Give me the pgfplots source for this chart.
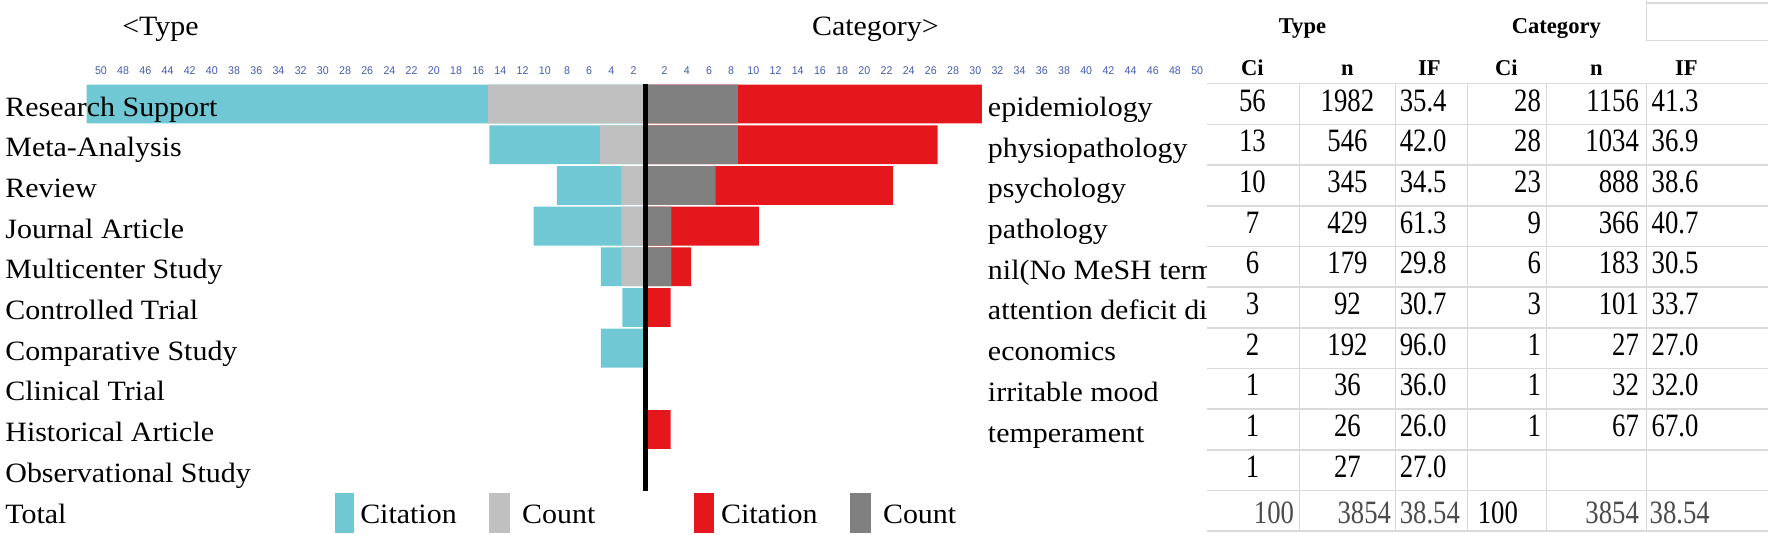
\documentclass[border=0pt]{standalone}
\usepackage{fontspec}
\setmainfont{Liberation Serif}
\newfontfamily\labfont{Liberation Serif}[FakeStretch=1.07]
\newfontfamily\tabfont{Liberation Serif}[FakeStretch=0.82]
\newfontfamily\tickfont{Liberation Sans}[FakeStretch=0.95]
\usepackage{pgfplots}
\pgfplotsset{compat=1.18}
\definecolor{cCyan}{RGB}{112,200,212}
\definecolor{cLight}{RGB}{192,192,192}
\definecolor{cDark}{RGB}{128,128,128}
\definecolor{cRed}{RGB}{228,24,28}
\definecolor{cBlue}{RGB}{70,90,180}
\definecolor{cLine}{RGB}{218,218,218}
\definecolor{cTot}{RGB}{75,75,75}
\newcommand{\LAB}{\fontsize{14}{16}\labfont}
\newcommand{\TAB}{\fontsize{16.3}{18}\tabfont}
\newcommand{\HEAD}{\fontsize{11.3}{13}\selectfont\bfseries}
\begin{document}
\begin{tikzpicture}
\begin{scope}[x=0.5pt,y=-0.5pt]
\path[use as bounding box] (0,0) rectangle (1769,534);
\end{scope}
\begin{axis}[
  at={(0pt,-267pt)}, anchor=south west,
  scale only axis, width=884.5pt, height=267pt,
  xmin=-58.198, xmax=101.17,
  ymin=-11.581, ymax=1.539,
  axis line style={draw=none},
  ytick=\empty,
  xtick={-49.1,-47.1,-45.1,-43.1,-41.1,-39.1,-37.1,-35.1,-33.1,-31.1,-29.1,-27.1,-25.1,-23.1,-21.1,-19.1,-17.1,-15.1,-13.1,-11.1,-9.1,-7.1,-5.1,-3.1,-1.1,
         1.7,3.7,5.7,7.7,9.7,11.7,13.7,15.7,17.7,19.7,21.7,23.7,25.7,27.7,29.7,31.7,33.7,35.7,37.7,39.7,41.7,43.7,45.7,47.7,49.7},
  xticklabels={50,48,46,44,42,40,38,36,34,32,30,28,26,24,22,20,18,16,14,12,10,8,6,4,2,
               2,4,6,8,10,12,14,16,18,20,22,24,26,28,30,32,34,36,38,40,42,44,46,48,50},
  xticklabel pos=upper,
  major tick length=0pt,
  xticklabel style={anchor=center, inner sep=0pt, yshift=-35pt, font=\fontsize{5.6}{6}\tickfont, text=cBlue},
  clip=false,
]
\addplot[xbar, bar shift=0pt, bar width=0.955, fill=cCyan, draw=none]
  coordinates {(-50.4,-1) (-14.1,-2) (-8.0,-3) (-10.1,-4) (-4.05,-5) (-2.1,-6) (-4.05,-7)};
\addplot[xbar, bar shift=0pt, bar width=0.955, fill=cLight, draw=none]
  coordinates {(-14.2,-1) (-4.1,-2) (-2.2,-3) (-2.2,-4) (-2.2,-5)};
\addplot[xbar, bar shift=0pt, bar width=0.955, fill=cRed, draw=none]
  coordinates {(30.3,-1) (26.3,-2) (22.3,-3) (10.2,-4) (4.1,-5) (2.25,-6) (2.25,-9)};
\addplot[xbar, bar shift=0pt, bar width=0.955, fill=cDark, draw=none]
  coordinates {(8.3,-1) (8.3,-2) (6.3,-3) (2.3,-4) (2.3,-5)};
\draw[line width=2.5pt, black] (axis cs:0,-0.5) -- (axis cs:0,-10.5);
\end{axis}
\begin{scope}[x=0.5pt,y=-0.5pt]
% titles
\node[anchor=base west, inner sep=0, font=\LAB] at (122,35) {<Type};
\node[anchor=base west, inner sep=0, font=\LAB] at (812,35) {Category>};
% left labels
\foreach \lab [count=\i] in {Research Support,Meta-Analysis,Review,Journal Article,Multicenter Study,Controlled Trial,Comparative Study,Clinical Trial,Historical Article,Observational Study}
  \node[anchor=base west, inner sep=0, font=\LAB] at (5,{83+40.7*(\i-0.5)+12}) {\lab};
\node[anchor=base west, inner sep=0, font=\LAB] at (5,523) {Total};
% category labels (cut at the cell edge, as in the reference)
\begin{scope}
\clip (975,80) rectangle (1207,500);
\foreach \lab [count=\i] in {epidemiology,physiopathology,psychology,pathology,nil(No MeSH term,attention deficit di,economics,irritable mood,temperament}
  \node[anchor=base west, inner sep=0, font=\LAB] at (988,{83+40.7*(\i-0.5)+12.5}) {\lab};
\end{scope}
% legend
\fill[cCyan] (335,492) rectangle (354,532);
\fill[cLight] (489,492) rectangle (510,532);
\fill[cRed] (694,492) rectangle (714,532);
\fill[cDark] (850,492) rectangle (871,532);
\node[anchor=base west, inner sep=0, font=\LAB] at (360,523) {Citation};
\node[anchor=base west, inner sep=0, font=\LAB] at (522,523) {Count};
\node[anchor=base west, inner sep=0, font=\LAB] at (721,523) {Citation};
\node[anchor=base west, inner sep=0, font=\LAB] at (883,523) {Count};
% table grid
\foreach \k in {0,...,11}
  \draw[cLine, line width=0.75pt] (1207,{83+40.7*\k}) -- (1769,{83+40.7*\k});
\foreach \xx in {1300,1396,1468,1547,1647}
  \draw[cLine, line width=0.75pt] (\xx,83) -- (\xx,531);
\draw[cLine, line width=0.75pt] (1647,0) -- (1647,40) (1647,2) -- (1769,2) (1647,40) -- (1769,40);
% table headers
\node[anchor=base, inner sep=0, font=\HEAD] at (1303,33) {Type};
\node[anchor=base, inner sep=0, font=\HEAD] at (1557,33) {Category};
\foreach \h/\xx in {Ci/1253,n/1348,IF/1430,Ci/1507,n/1597,IF/1687}
  \node[anchor=base, inner sep=0, font=\HEAD] at (\xx,75) {\h};
% type columns
\foreach \ci/\n/\f [count=\i] in {56/1982/35.4,13/546/42.0,10/345/34.5,7/429/61.3,6/179/29.8,3/92/30.7,2/192/96.0,1/36/36.0,1/26/26.0,1/27/27.0}{
  \node[anchor=base, inner sep=0, font=\TAB] at (1253,{83+40.7*(\i-0.5)+7}) {\ci};
  \node[anchor=base, inner sep=0, font=\TAB] at (1348,{83+40.7*(\i-0.5)+7}) {\n};
  \node[anchor=base west, inner sep=0, font=\TAB] at (1400,{83+40.7*(\i-0.5)+7}) {\f};
}
% category columns
\foreach \ci/\n/\f [count=\i] in {28/1156/41.3,28/1034/36.9,23/888/38.6,9/366/40.7,6/183/30.5,3/101/33.7,1/27/27.0,1/32/32.0,1/67/67.0}{
  \node[anchor=base east, inner sep=0, font=\TAB] at (1542,{83+40.7*(\i-0.5)+7}) {\ci};
  \node[anchor=base east, inner sep=0, font=\TAB] at (1640,{83+40.7*(\i-0.5)+7}) {\n};
  \node[anchor=base west, inner sep=0, font=\TAB] at (1652,{83+40.7*(\i-0.5)+7}) {\f};
}
% totals
\node[anchor=base east, inner sep=0, font=\TAB, text=cTot] at (1295,523) {100};
\node[anchor=base east, inner sep=0, font=\TAB, text=cTot] at (1392,523) {3854};
\node[anchor=base west, inner sep=0, font=\TAB, text=cTot] at (1400,523) {38.54};
\node[anchor=base west, inner sep=0, font=\TAB] at (1478,523) {100};
\node[anchor=base east, inner sep=0, font=\TAB, text=cTot] at (1640,523) {3854};
\node[anchor=base west, inner sep=0, font=\TAB, text=cTot] at (1650,523) {38.54};
\end{scope}
\end{tikzpicture}
\end{document}
